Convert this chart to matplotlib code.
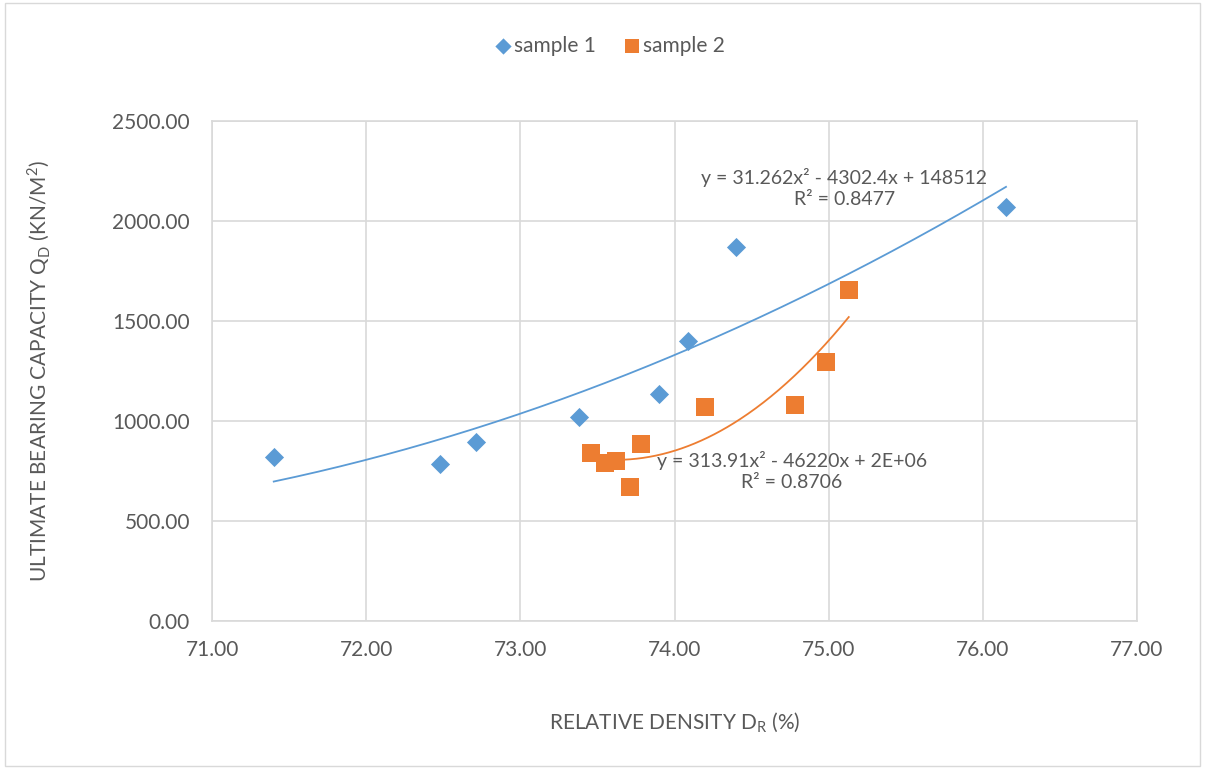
import matplotlib
matplotlib.use("Agg")
import matplotlib.pyplot as plt
from matplotlib.patches import Rectangle
import numpy as np

# values
s1_x = [71.40, 72.48, 72.71, 73.38, 73.90, 74.09, 74.40, 76.15]
s1_y = [821, 785, 895, 1021, 1134, 1402, 1872, 2072]
s2_x = [73.46, 73.55, 73.62, 73.71, 73.78, 74.20, 74.78, 74.98, 75.13]
s2_y = [840, 791, 802, 672, 885, 1071, 1078, 1297, 1655]

x_ticks = [71, 72, 73, 74, 75, 76, 77]
y_ticks = [0, 500, 1000, 1500, 2000, 2500]

eq1 = "y = 31.262x² - 4302.4x + 148512\nR² = 0.8477"
eq2 = "y = 313.91x² - 46220x + 2E+06\nR² = 0.8706"

blue = "#5B9BD5"
orange = "#ED7D31"
grey = "#595959"

plt.rcParams['font.family'] = ['Lato', 'DejaVu Sans']

fig = plt.figure(figsize=(12.05, 7.69), dpi=100)
fig.patches.append(Rectangle((0.004, 0.004), 0.992, 0.992, transform=fig.transFigure,
                             fill=False, edgecolor="#D9D9D9", linewidth=1))
ax = fig.add_axes([0.176, 0.1925, 0.7676, 0.6502])

ax.scatter(s1_x, s1_y, marker="D", s=95, color=blue, label="sample 1", zorder=3, linewidths=0)
ax.scatter(s2_x, s2_y, marker="s", s=150, color=orange, label="sample 2", zorder=3, linewidths=0)

# polynomial trendlines (order 2) over each series' range
for xs, ys, c in [(s1_x, s1_y, blue), (s2_x, s2_y, orange)]:
    p = np.polyfit(xs, ys, 2)
    xx = np.linspace(min(xs), max(xs), 200)
    ax.plot(xx, np.polyval(p, xx), color=c, linewidth=1.3, zorder=2)

ax.text(75.10, 2165, eq1, ha="center", va="center", fontsize=14, color=grey, linespacing=1.25)
ax.text(74.76, 750, eq2, ha="center", va="center", fontsize=14, color=grey, linespacing=1.25)

ax.set_xlim(71, 77)
ax.set_ylim(0, 2500)
ax.set_xticks(x_ticks)
ax.set_yticks(y_ticks)
ax.set_xticklabels([f"{v:.2f}" for v in x_ticks])
ax.set_yticklabels([f"{v:.2f}" for v in y_ticks])
ax.tick_params(length=0, labelsize=15, colors=grey)
ax.tick_params(axis="y", pad=16)
ax.tick_params(axis="x", pad=14)
ax.grid(True, color="#D9D9D9", linewidth=1.2)
ax.set_axisbelow(True)
for sp in ax.spines.values():
    sp.set_color("#D9D9D9")
    sp.set_linewidth(1.2)

ax.set_xlabel(r"RELATIVE DENSITY D$_\mathregular{R}$ (%)", fontsize=15, color=grey)
ax.set_ylabel(r"ULTIMATE BEARING CAPACITY Q$_\mathregular{D}$ (KN/M$^\mathregular{2}$)",
              fontsize=15, color=grey)
ax.xaxis.set_label_coords(0.5, -0.18)
ax.yaxis.set_label_coords(-0.172, 0.5)

fig.legend(loc="upper center", bbox_to_anchor=(0.506, 0.978), ncol=2, frameon=False,
           fontsize=15, labelcolor=grey, markerscale=0.85, handlelength=0.8,
           handletextpad=0.15, columnspacing=1.3)

fig.savefig("out.png", dpi=100)
